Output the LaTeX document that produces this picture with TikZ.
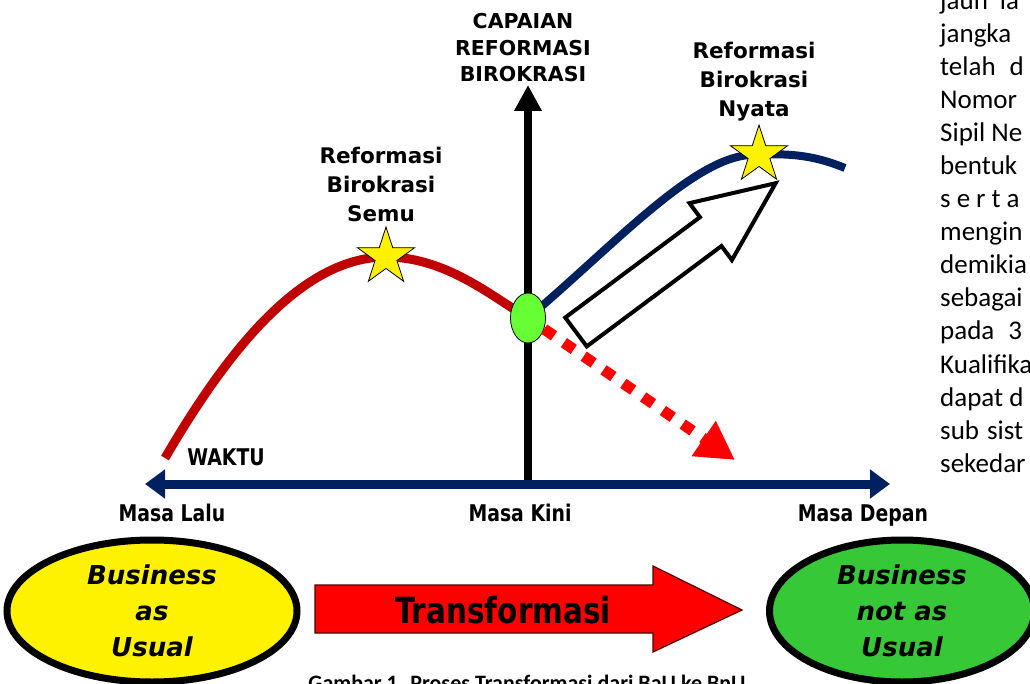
\documentclass[tikz,border=0pt]{standalone}
\usepackage{fontspec}
\usepackage{tikz}
\usetikzlibrary{arrows.meta,shapes.geometric}
\newfontfamily\dvfont{DejaVu Sans}
\newfontfamily\dvcond[FakeStretch=0.82]{DejaVu Sans}
\newfontfamily\bodyfont{Carlito}
\definecolor{curvered}{RGB}{192,0,0}
\definecolor{axisnavy}{RGB}{0,32,96}
\definecolor{nowgreen}{RGB}{102,255,51}
\definecolor{bnugreen}{RGB}{55,200,55}
\pgfdeclarelayer{bg}
\pgfsetlayers{bg,main}

\begin{document}
\begin{tikzpicture}[x=1pt, y=-1pt,
    heading/.style = {align=center, font=\dvfont\bfseries\fontsize{20.5}{26.5}\selectfont},
    peaklabel/.style = {align=center, font=\dvfont\bfseries\fontsize{21.5}{29}\selectfont},
    timelabel/.style = {anchor=base, font=\dvcond\bfseries\fontsize{23}{28}\selectfont},
    starmark/.style = {star, star points=5, star point ratio=2.618, draw, thick, fill=yellow, minimum size=60pt, inner sep=0pt},
    bizoval/.style = {ellipse, draw, line width=7pt, minimum width=#1, minimum height=142pt, inner sep=0pt, align=center, font=\dvfont\bfseries\itshape\fontsize{26}{36}\selectfont},
    bodyline/.style = {anchor=base west, inner sep=0pt, font=\bodyfont\fontsize{27}{33}\selectfont}]
    \useasboundingbox (0,0) rectangle (1030,684);

    % axes and end points
    \coordinate (past) at (145,484);
    \coordinate (future) at (890,484);
    \coordinate (origin) at (528,484);
    \coordinate (ytop) at (528,85);
    \coordinate (redstart) at (165,458);
    \coordinate (bluestop) at (845,168);
    \coordinate (decline) at (735,460);

    \node[heading] (capaian) at (523,48) {CAPAIAN\\REFORMASI\\BIROKRASI};
    \node[peaklabel] (semu) at (381,184) {Reformasi\\Birokrasi\\Semu};
    \node[peaklabel] (nyata) at (754,82) {Reformasi\\Birokrasi\\Nyata};
    \node[starmark] (semustar) at (386,257) {};
    \node[starmark] (nyatastar) at (759,155) {};
    \node[ellipse, draw, thick, fill=nowgreen, minimum width=35pt, minimum height=50pt, inner sep=0pt] (now) at (528,318) {};

    \begin{pgfonlayer}{bg}
        \draw[line width=8pt, -{Triangle[length=26pt,width=26pt]}] (origin) -- (ytop);
        \draw[axisnavy, line width=9pt, {Triangle[length=20pt,width=28pt]}-{Triangle[length=20pt,width=28pt]}] (past) -- (future);
        \draw[curvered, line width=9pt] (redstart) .. controls (225,355) and (300,257) .. (semustar.center) .. controls (445,257) and (490,295) .. (now.center);
        \draw[axisnavy, line width=8pt] (now.center) .. controls (620,240) and (700,150) .. (nyatastar.center) .. controls (800,152) and (825,160) .. (bluestop);
    \end{pgfonlayer}

    \draw[red, line width=11pt, dash pattern=on 12pt off 12pt, -{Triangle[length=38pt,width=40pt]}] (now) -- (decline);

    % hollow arrow
    \begin{scope}[shift={(576,332)}, rotate=36.7]
        \draw[line width=4pt, fill=white] (0,-18) -- (168,-18) -- (168,-35.5) -- (249,0) -- (168,35.5) -- (168,18) -- (0,18) -- cycle;
    \end{scope}

    \node[timelabel] (waktu) at (226,465) {WAKTU};
    \node[timelabel] (lalu) at (172,521) {Masa Lalu};
    \node[timelabel] (kini) at (520,521) {Masa Kini};
    \node[timelabel] (depan) at (863,521) {Masa Depan};

    \node[bizoval=290pt, fill=yellow] (bau) at (152,611) {Business\\as\\Usual};
    \node[bizoval=265pt, fill=bnugreen] (bnu) at (902,611) {Business\\not as\\Usual};

    \draw[fill=red, draw=black!70!red, line width=1.2pt] (315,585) -- (653,585) -- (653,566) -- (742,610) -- (653,652) -- (653,633) -- (315,633) -- cycle;
    \node[font=\dvcond\bfseries\fontsize{36}{40}\selectfont] (trans) at (503,610) {Transformasi};

    \node[anchor=base, font=\bodyfont\bfseries\fontsize{22}{26}\selectfont] (caption) at (527,690) {Gambar 1. Proses Transformasi dari BaU ke BnU};

    \foreach \txt [count=\i from 0] in {jauh\hspace{12pt}la, jangka, telah\hspace{14pt}d, Nomor, Sipil Ne, bentuk, s\hspace{6pt}e\hspace{6pt}r\hspace{6pt}t\hspace{6pt}a, mengin, demikia, sebagai, pada\hspace{14pt}3, Kualifika, dapat d, sub\hspace{8pt}sist, sekedar}
        \node[bodyline] (line\i) at (940,{10+33*\i}) {\txt};
\end{tikzpicture}
\end{document}
